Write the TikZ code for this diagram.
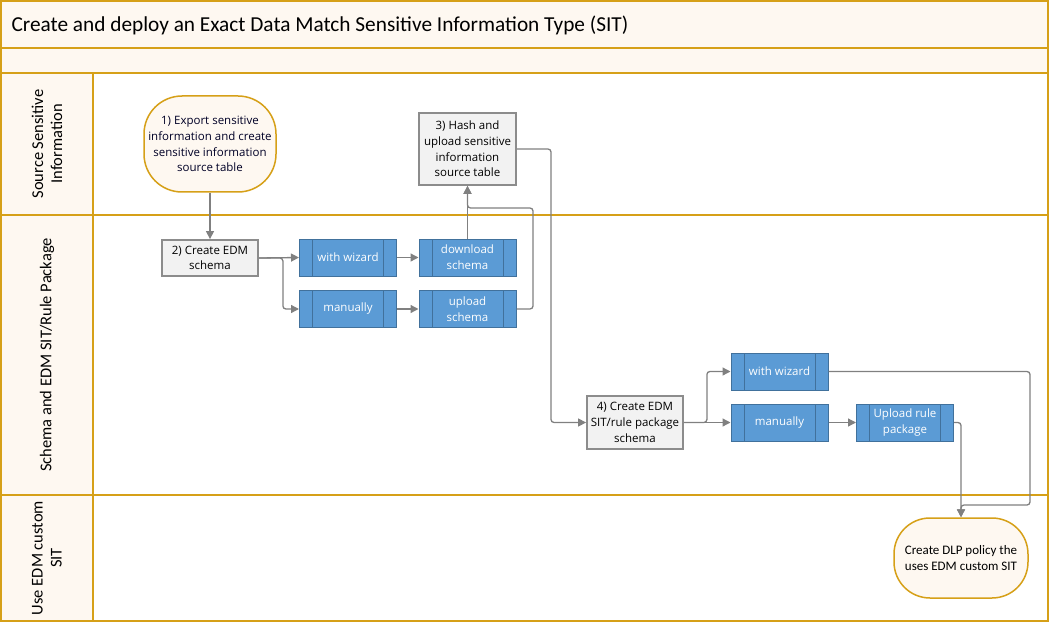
\documentclass[tikz,border=0pt]{standalone}
\usepackage{fontspec}
\setmainfont{Open Sans}
\newfontfamily\calfont{Carlito}
\usetikzlibrary{arrows.meta}
\definecolor{gold}{RGB}{214,160,24}
\definecolor{cream}{RGB}{254,248,241}
\definecolor{bluefill}{RGB}{91,155,213}
\definecolor{blueline}{RGB}{65,113,156}
\definecolor{boxgray}{RGB}{242,242,242}
\definecolor{boxline}{RGB}{140,140,140}
\definecolor{linegray}{RGB}{128,128,128}

\begin{document}
\begin{tikzpicture}
    [
        x=1pt, y=-1pt,
        lane/.style = {draw=gold, line width=2pt},
        lanelabel/.style = {rotate=90, align=center, font=\calfont\fontsize{16.5}{19}\selectfont},
        terminal/.style = {draw=gold, fill=cream, line width=1.5pt, rounded corners=38pt, align=center, text=black!85!blue, font=\fontsize{11.5}{15.7}\selectfont},
        graybox/.style = {draw=boxline, fill=boxgray, line width=1.8pt, align=center, font=\fontsize{11.5}{15.7}\selectfont},
        subproc/.style = {draw=blueline, fill=bluefill, line width=1pt, text=white, align=center, minimum width=97pt, minimum height=37pt, inner sep=0pt, font=\fontsize{11.5}{15.7}\selectfont,
            path picture={\draw[blueline, line width=1pt] ([xshift=13pt]path picture bounding box.north west) -- ([xshift=13pt]path picture bounding box.south west);
                          \draw[blueline, line width=1pt] ([xshift=-13pt]path picture bounding box.north east) -- ([xshift=-13pt]path picture bounding box.south east);}},
        conn/.style = {draw=linegray, line width=1.3pt, rounded corners=3pt, -{Triangle[length=8pt, width=8pt]}, color=linegray},
    ]

    \useasboundingbox (0,0) rectangle (1050,623);
    \fill[cream] (1,1) rectangle (1048,73);
    \fill[cream] (1,73) rectangle (93,621);
    \draw[lane] (1,1) rectangle (1048,621);
    \draw[lane] (1,48) -- (1048,48);
    \draw[lane] (1,73) -- (1048,73);
    \draw[lane] (93,73) -- (93,621);
    \draw[lane] (1,215) -- (1048,215);
    \draw[lane] (1,495) -- (1048,495);

    \node[anchor=west, font=\calfont\fontsize{21.3}{23}\selectfont] (title) at (8,25) {Create and deploy an Exact Data Match Sensitive Information Type (SIT)};

    \node[lanelabel] (l1) at (47,144) {Source Sensitive\\Information};
    \node[lanelabel] (l2) at (47,355) {Schema and EDM SIT/Rule Package};
    \node[lanelabel] (l3) at (47,558) {Use EDM custom\\SIT};

    \node[terminal, minimum width=132pt, minimum height=96pt, inner sep=0pt] (1c) at (210,144) {1) Export sensitive\\information and create\\sensitive information\\source table};
    \node[graybox, minimum width=97pt, minimum height=72pt, inner sep=0pt] (3c) at (467.5,149) {3) Hash and\\upload sensitive\\information\\source table};
    \node[graybox, minimum width=96pt, minimum height=36pt, inner sep=0pt] (2c) at (210,258) {2) Create EDM\\schema};
    \node[subproc] (wiz1) at (348,257.5) {with wizard};
    \node[subproc] (dl) at (467.5,257.5) {download\\schema};
    \node[subproc] (man1) at (348,309) {manually};
    \node[subproc] (up) at (467.5,309) {upload\\schema};
    \node[graybox, minimum width=96pt, minimum height=53pt, inner sep=0pt] (4c) at (635,422.5) {4) Create EDM\\SIT/rule package\\schema};
    \node[subproc] (wiz2) at (779.5,371.5) {with wizard};
    \node[subproc] (man2) at (779.5,422.5) {manually};
    \node[subproc] (uprule) at (905,422.5) {Upload rule\\package};
    \node[terminal, minimum width=134pt, minimum height=80pt, inner sep=0pt, rounded corners=36pt, text=black, font=\calfont\fontsize{13}{16}\selectfont] (5c) at (961,558) {Create DLP policy the\\uses EDM custom SIT};

    \coordinate (j1) at (533,208);
    \coordinate (j2) at (551,422.5);
    \coordinate (j3) at (1030,505);

    \draw[conn] (1c) -- (2c);
    \draw[conn] (2c.east) -- (wiz1.west);
    \draw[conn] (2c.east) -- ++(24,0) |- (man1.west);
    \draw[conn] (wiz1) -- (dl);
    \draw[conn] (man1) -- (up);
    \draw[conn] (dl) -- (3c);
    \draw[conn] (up.east) -| (j1) -- (3c.south |- j1) -- (3c.south);
    \draw[conn] (3c.east) -| (j2) -- (4c.west);
    \draw[conn] (4c.east) -- ++(23,0) |- (wiz2.west);
    \draw[conn] (4c) -- (man2);
    \draw[conn] (man2) -- (uprule);
    \draw[conn] (uprule.east) -| (5c.north);
    \draw[conn] (wiz2.east) -| (j3) -| (5c.north);
\end{tikzpicture}
\end{document}
